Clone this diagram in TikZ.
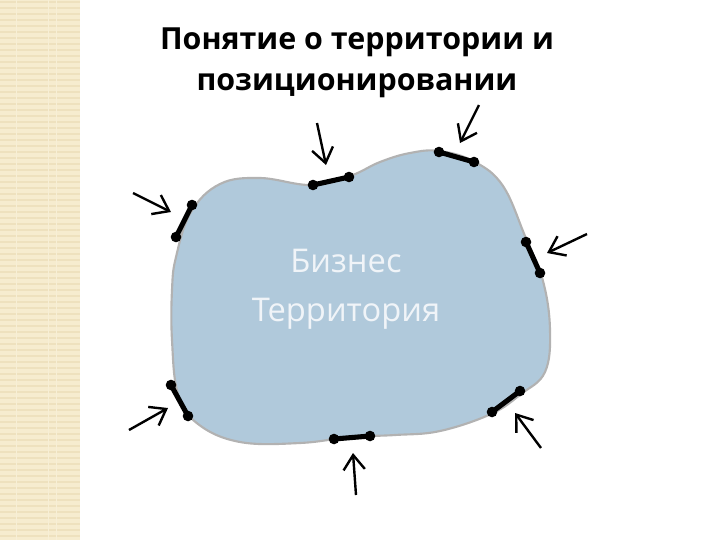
\documentclass[tikz,border=0pt]{standalone}
\usepackage{fontspec}
\setmainfont{Open Sans}
\usetikzlibrary{arrows.meta}

\definecolor{stripbg}{RGB}{246,236,207}
\definecolor{stripln}{RGB}{238,225,190}
\definecolor{terrfill}{RGB}{176,201,219}
\definecolor{terredge}{RGB}{178,178,178}
\definecolor{terrtext}{RGB}{240,244,248}

\tikzset{
  border/.style={line width=3.8pt,line cap=round},
  pin/.style={line width=1.8pt,-{Straight Barb[length=11pt,width=16pt,line width=1.8pt]}},
}

\begin{document}
\begin{tikzpicture}[x=0.75pt,y=-0.75pt]
\path[use as bounding box] (0,0) rectangle (720,540);
% left strip
\fill[stripbg] (0,0) rectangle (80,540);
\foreach \y in {2,8,...,540}
  \draw[stripln,line width=1.2pt] (0,\y) -- (80,\y);
\foreach \x in {16,48,56}
  \draw[stripbg!85!white,line width=0.6pt] (\x,0) -- (\x,540);
% title
\node[font=\bfseries\fontsize{22.8}{31}\selectfont,align=center] (title) at (357,63)
  {Понятие о территории и\\позиционировании};
% territory
\draw[terredge,fill=terrfill,line width=1.6pt] plot[smooth cycle,tension=0.65] coordinates {
  (176,257) (191,212) (220,184) (260,178) (311,185) (350,176) (380,162)
  (410,153) (440,151) (475,162) (503,186) (525,236) (543,281) (550,330)
  (545,372) (521,394) (491,414) (440,431) (395,435) (351,437) (300,443)
  (240,442) (198,424) (178,394) (172,340) (172,290)};
\node[text=terrtext,font=\fontsize{24.5}{37}\selectfont,align=center] (terr) at (346,289)
  {Бизнес\\Территория};
% borders
\foreach \a/\b in {{176,237}/{192,205},{313,185}/{349,177},{439,152}/{474,162},
                   {526,242}/{540,273},{520,391}/{492,412},{334,439}/{370,436},
                   {171,385}/{188,416}} {
  \draw[border] (\a) -- (\b);
  \fill (\a) circle (5.3);
  \fill (\b) circle (5.3);
}
% arrows
\draw[pin] (133,193) -- (171,212);
\draw[pin] (317,123) -- (326,165);
\draw[pin] (479,105) -- (460,143);
\draw[pin] (587,234) -- (547,253);
\draw[pin] (541,448) -- (515,413);
\draw[pin] (356,495) -- (353,453);
\draw[pin] (129,430) -- (168,408);
\end{tikzpicture}
\end{document}
